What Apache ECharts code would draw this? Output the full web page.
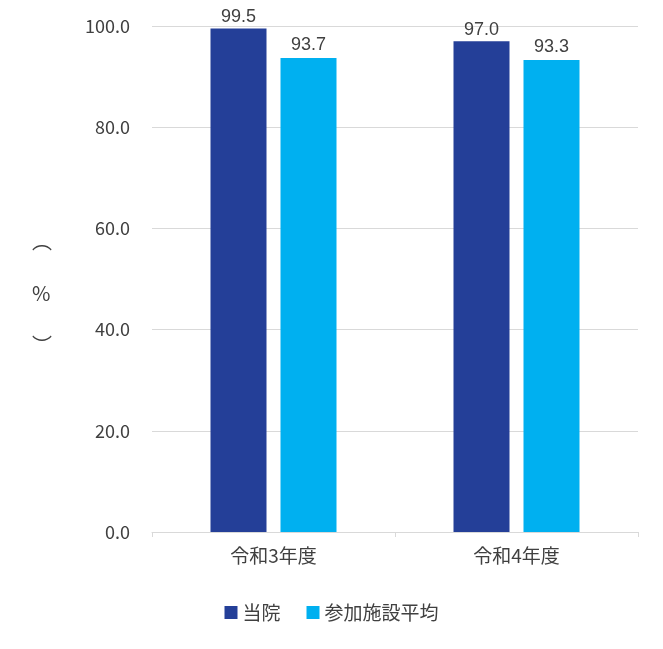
<!DOCTYPE html>
<html><head><meta charset="utf-8">
<script src="https://cdn.jsdelivr.net/npm/echarts@6/dist/echarts.min.js"></script>
<style>html,body{margin:0;background:#fff}#c{width:663px;height:649px}</style>
</head><body><div id="c"></div>
<script>
var categories = ['令和3年度', '令和4年度'];
var ourValues = [99.5, 97.0];
var avgValues = [93.7, 93.3];
var seriesNames = ['当院', '参加施設平均'];

var font = '"Noto Sans CJK JP", sans-serif';
var chart = echarts.init(document.getElementById('c'));
chart.setOption({
  animation: false,
  grid: { left: 152, right: 25, top: 26, bottom: 117 },
  legend: {
    bottom: 22, left: 'center', itemWidth: 13, itemHeight: 13, itemGap: 26, icon: 'rect',
    textStyle: { fontSize: 19, color: '#404040', fontFamily: font }
  },
  graphic: [
    { type: 'text', left: 32, top: 228, style: { text: '︵\n\n%\n\n︶', font: '20px ' + font, fill: '#404040', align: 'center', lineHeight: 26 } }
  ],
  xAxis: {
    type: 'category', data: categories,
    axisLine: { lineStyle: { color: '#d9d9d9' } },
    axisTick: { show: true, lineStyle: { color: '#d9d9d9' } },
    axisLabel: { fontSize: 19, color: '#404040', fontFamily: font, margin: 14 }
  },
  yAxis: {
    type: 'value', min: 0, max: 100, interval: 20,
    axisLabel: { fontSize: 18, color: '#404040', fontFamily: font, formatter: function (v) { return v.toFixed(1); }, margin: 22 },
    splitLine: { lineStyle: { color: '#d9d9d9' } }
  },
  series: [
    { name: seriesNames[0], type: 'bar', data: ourValues, barWidth: 56, barGap: '25%', itemStyle: { color: '#243f98' },
      label: { show: true, position: 'top', distance: 2, fontSize: 18, color: '#404040', formatter: function (p) { return p.value.toFixed(1); } } },
    { name: seriesNames[1], type: 'bar', data: avgValues, barWidth: 56, itemStyle: { color: '#00b0f0' },
      label: { show: true, position: 'top', distance: 4, fontSize: 18, color: '#404040', formatter: function (p) { return p.value.toFixed(1); } } }
  ]
});
</script></body></html>
